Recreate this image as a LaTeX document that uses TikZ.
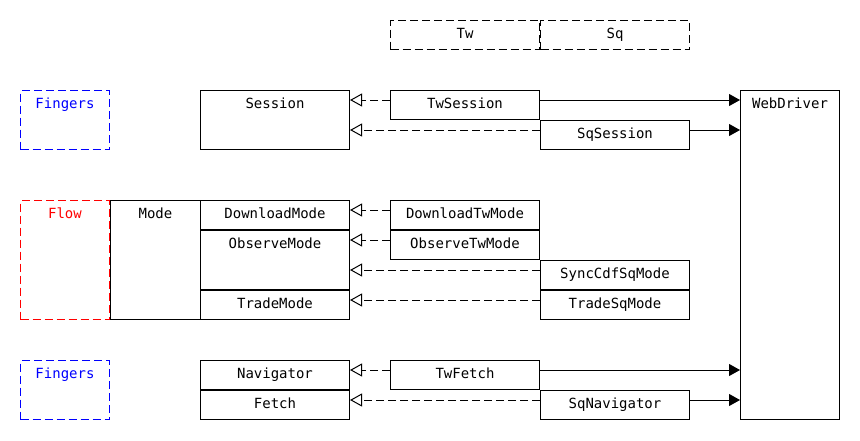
\documentclass[tikz,border=0pt]{standalone}
\usepackage{fontspec}
\setmonofont{DejaVu Sans Mono}
\usetikzlibrary{arrows.meta}

\begin{document}
\begin{tikzpicture}[x = 1pt, y = -1pt, line width = 1pt,
	font = \ttfamily\fontsize{14}{17}\selectfont,
	box/.style = {draw, anchor = north west, inner sep = 0pt, minimum width = 149pt, minimum height = 29pt},
	tall/.style = {minimum height = #1},
	group/.style = {draw = #1, dash pattern = on 8pt off 4pt, anchor = north west, inner sep = 0pt, minimum width = 89pt},
	title/.style = {label = {[anchor = base, label distance = -18.5pt]north:#1}},
	gtitle/.style 2 args = {label = {[text = #1, anchor = base, label distance = -18.5pt]north:#2}},
	realize/.style = {dash pattern = on 8pt off 4pt, -{Triangle[open, length = 12pt, width = 13pt]}},
	uses/.style = {-{Triangle[length = 11pt, width = 12pt]}}]

	\useasboundingbox (0, 0) rectangle (860, 440);

	% Flavours
	
	\node [box, dash pattern = on 8pt off 4pt, title = Tw] (Tw) at (390, 20) {};
	\node [box, dash pattern = on 8pt off 4pt, title = Sq] (Sq) at (540, 20) {};

	% Groups
	
	\node [group = blue, tall = 59pt, gtitle = {blue}{Fingers}] (FingersTop) at (20, 90) {};
	\node [group = red, tall = 119pt, gtitle = {red}{Flow}] (Flow) at (20, 200) {};
	\node [group = blue, tall = 59pt, gtitle = {blue}{Fingers}] (FingersBottom) at (20, 360) {};

	% Interfaces
	
	\node [box, tall = 59pt, title = Session] (Session) at (200, 90) {};
	\node [box, minimum width = 90pt, tall = 119pt, title = Mode] (Mode) at (110, 200) {};
	\node [box, title = DownloadMode] (DownloadMode) at (200, 200) {};
	\node [box, tall = 59pt, title = ObserveMode] (ObserveMode) at (200, 230) {};
	\node [box, title = TradeMode] (TradeMode) at (200, 290) {};
	\node [box, title = Navigator] (Navigator) at (200, 360) {};
	\node [box, title = Fetch] (Fetch) at (200, 390) {};

	% Implementations
	
	\node [box, title = TwSession] (TwSession) at (390, 90) {};
	\node [box, title = SqSession] (SqSession) at (540, 120) {};
	\node [box, title = DownloadTwMode] (DownloadTwMode) at (390, 200) {};
	\node [box, title = ObserveTwMode] (ObserveTwMode) at (390, 230) {};
	\node [box, title = SyncCdfSqMode] (SyncCdfSqMode) at (540, 260) {};
	\node [box, title = TradeSqMode] (TradeSqMode) at (540, 290) {};
	\node [box, title = TwFetch] (TwFetch) at (390, 360) {};
	\node [box, title = SqNavigator] (SqNavigator) at (540, 390) {};

	\node [box, minimum width = 99pt, tall = 329pt, title = WebDriver] (WebDriver) at (740, 90) {};

	% Realizations
	
	\foreach \impl/\iface in {TwSession/Session, SqSession/Session, DownloadTwMode/DownloadMode,
		ObserveTwMode/ObserveMode, SyncCdfSqMode/ObserveMode, TradeSqMode/TradeMode,
		TwFetch/Navigator, SqNavigator/Fetch}
		\draw [realize] ([yshift = -10pt] \impl.north west) -- ([yshift = -10pt] \impl.north west -| \iface.east);

	% Driver usage
	
	\foreach \impl in {TwSession, SqSession, TwFetch, SqNavigator}
		\draw [uses] ([yshift = -10pt] \impl.north east) -- ([yshift = -10pt] \impl.north east -| WebDriver.west);

\end{tikzpicture}
\end{document}
